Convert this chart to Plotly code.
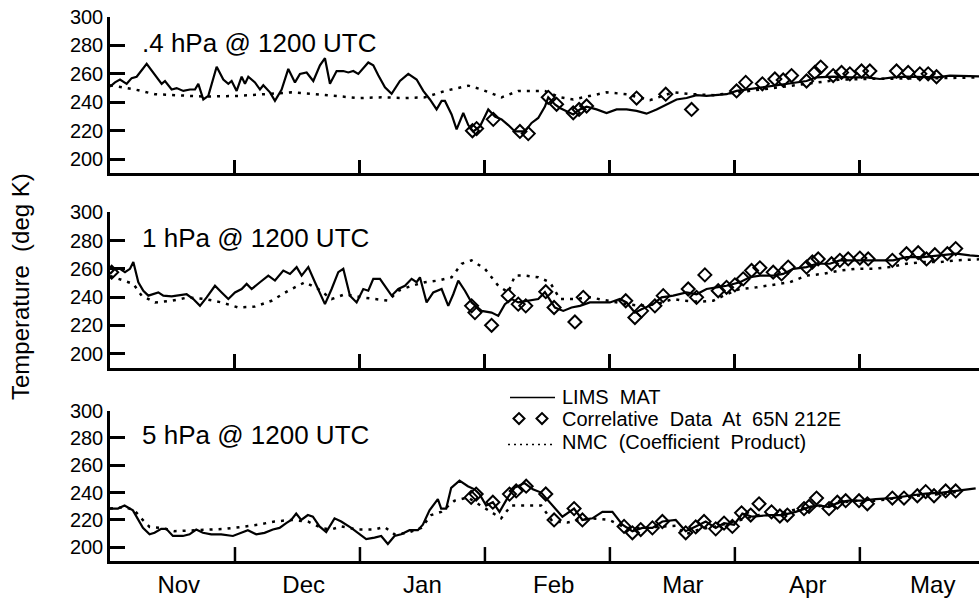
import plotly.graph_objects as go

# ---------------- data (x = days from 1 Nov, y = temperature in K) ----------------
tick_days = [30, 60, 90, 120, 150, 180]
month_labels = ["Nov", "Dec", "Jan", "Feb", "Mar", "Apr", "May"]
month_label_days = [16.5, 46.5, 75.0, 106.5, 137.5, 167.5, 197.5]
y_ticks = [200, 220, 240, 260, 280, 300]

panel_titles = [".4 hPa @ 1200 UTC", "1 hPa @ 1200 UTC", "5 hPa @ 1200 UTC"]

# ---- 0.4 hPa ----
p1_lims_day = [0, 1.2, 2.4, 4.0, 5.2, 6.4, 8.8, 10.8, 12.4, 13.2, 14.8, 16.0, 17.6, 19.2, 20.4, 21.2,
               22.4, 23.6, 25.6, 27.2, 28.4, 29.2, 30.4, 31.6, 32.4, 33.2, 34.8, 36.0, 36.8, 38.4,
               39.6, 41.2, 42.8, 44.4, 45.6, 47.2, 48.8, 50.4, 51.6, 52.8, 54.4, 56.0, 57.2, 58.4,
               59.6, 62.0, 63.2, 64.4, 66.0, 67.6, 69.6, 71.6, 73.6, 75.2, 76.8, 78.4, 79.6, 80.4,
               82.0, 83.2, 84.8, 86.0, 87.2, 88.8, 90.8, 92.4, 94.0, 95.6, 97.2, 99.6, 101.2, 102.8,
               104.4, 105.2, 106.8, 108.0, 111.2, 112.8, 114.4, 116.8, 119.2, 121.6, 124.0, 126.4,
               128.8, 131.2, 133.6, 136.0, 138.4, 140.8, 143.2, 145.6, 148.0, 150.4, 152.8, 156.0,
               159.2, 162.4, 164.8, 167.2, 169.6, 173.6, 177.6, 181.6, 184.8, 188.0, 191.2, 195.2,
               198.4, 201.6, 205.6, 208.6]
p1_lims_temp = [251, 254, 256, 253, 257, 258, 267, 259, 253, 255, 249, 250, 248, 249, 249, 253,
                242, 244.5, 265, 256, 253, 255, 248, 258, 253, 258, 254, 249, 252, 247,
                241, 249, 263.5, 254, 260, 261, 255, 266, 271, 253, 262, 262, 261, 262,
                260, 268, 266, 259, 250.5, 246, 255, 260, 256, 248, 242, 235, 241, 241,
                231.5, 221, 232.5, 224, 219.5, 223, 235, 230, 228, 224, 219.5, 219.5, 225.5, 229,
                237, 243.5, 238.5, 236, 231.5, 235, 237, 235, 232.5, 235, 235, 234,
                232, 235, 238.5, 242, 243, 245, 244.5, 245, 245.7, 248, 249, 250.5,
                251.7, 253, 254, 255, 257.6, 258, 257.6, 257.6, 256.4, 257.6, 258, 258,
                257.6, 258.8, 258.8, 258.3]
p1_nmc_day = [0, 6.0, 10.8, 18.8, 22.8, 30.8, 38.8, 43.6, 48.4, 53.2, 59.6, 65.2, 70.8, 75.6, 80.4,
              86.0, 89.2, 94.0, 98.0, 104.4, 108.0, 111.2, 119.2, 124.0, 129.6, 135.2, 140.0, 144.8,
              151.2, 159.2, 167.2, 175.2, 183.2, 191.2, 199.2, 208.6]
p1_nmc_temp = [252, 249, 245.7, 244.5, 244, 244.5, 246, 247, 246, 244.5, 243, 243.5, 243, 243.5, 248,
               251.7, 249, 243.5, 248, 248, 243.5, 242, 247, 245.7, 241.5, 247, 245.7, 245,
               247, 250, 253, 256, 256.5, 257, 257, 257.5]
p1_obs_day = [87.0, 88.0, 92.0, 98.4, 100.4, 105.2, 107.2, 111.2, 112.6, 114.4, 126.4, 133.4, 139.6,
              150.4, 152.6, 156.6, 159.6, 161.6, 163.6, 167.2, 169.2, 170.6, 173.6, 175.6, 177.6,
              180.4, 182.4, 188.8, 191.6, 194.4, 196.4, 198.4]
p1_obs_temp = [220, 221.5, 228, 219.5, 218, 243.5, 238.6, 232.6, 235, 237.4, 243, 245.7, 235,
               248, 254, 253, 256.4, 255.7, 258.8, 255, 261, 264.8, 258.8, 261, 260,
               262, 262, 262, 261, 260, 260, 258]

# ---- 1 hPa ----
p2_lims_day = [0, 1.2, 2.4, 3.6, 4.8, 5.6, 6.8, 8.0, 9.2, 10.4, 11.6, 12.8, 14.8, 16.0, 17.2, 18.4,
               20.0, 21.6, 23.2, 25.2, 26.8, 28.4, 30.0, 31.6, 32.8, 34.0, 36.0, 38.0, 39.6, 41.6,
               43.2, 44.8, 46.0, 47.6, 49.2, 51.6, 53.2, 54.8, 56.0, 57.6, 59.2, 60.8, 62.0, 63.2,
               64.8, 66.0, 67.6, 69.2, 70.8, 72.4, 73.6, 74.4, 76.0, 77.6, 79.6, 81.2, 82.4, 83.6,
               85.2, 86.8, 89.2, 91.6, 93.2, 94.8, 96.4, 98.0, 100.4, 102.8, 104.4, 106.8, 108.8,
               110.8, 112.8, 115.2, 117.6, 120.0, 122.4, 124.0, 126.0, 127.6, 130.4, 132.4, 135.2,
               138.4, 140.8, 143.2, 145.6, 148.0, 151.2, 153.6, 156.0, 159.2, 161.6, 164.0, 167.2,
               169.6, 172.8, 175.2, 179.2, 183.2, 188.0, 191.2, 195.2, 199.2, 203.2, 206.4, 208.6]
p2_lims_temp = [256.4, 260, 260, 257.6, 260, 264.8, 250.5, 244.5, 241, 242, 243.3, 241, 240.5, 241,
                241.4, 242, 238.6, 233.8, 239.8, 248, 243.3, 238.6, 243.3, 245.7, 249.3, 245.7,
                250.5, 255.2, 251.7, 258.8, 256.4, 261.2, 255.2, 261.2, 250.5, 235, 245.7, 257.6,
                260, 241, 236.2, 245.7, 244.5, 252.9, 252.9, 248, 241, 245.7, 248, 252.9, 250.5,
                254, 236.2, 243.3, 245.7, 233.8, 242, 251.7, 244.5, 236.2, 230.2, 229, 226.7, 235,
                238.6, 236.2, 237.4, 238.6, 243.5, 232.6, 230.2, 232.6, 233.8, 236.2, 236.2, 236.2,
                238.6, 236.2, 229, 231.4, 235, 239.8, 241, 243.3, 242, 245.7, 246.9, 248, 250.5,
                254, 255.2, 255.2, 256.4, 260, 261.2, 263.6, 263.6, 266, 266, 266, 266, 268.3,
                268.3, 269.5, 270.7, 269.5, 269]
p2_nmc_day = [0, 5.6, 7.6, 10.8, 14.8, 18.8, 22.8, 26.8, 30.8, 34.8, 38.8, 42.8, 46.8, 50.0, 53.2,
              56.4, 60.4, 64.4, 66.8, 69.2, 72.4, 75.6, 78.8, 82.0, 84.4, 86.8, 90.0, 93.2, 95.6,
              97.2, 99.6, 102.8, 105.6, 108.0, 111.2, 115.2, 119.2, 124.0, 127.2, 131.2, 135.2,
              137.6, 141.6, 144.8, 148.0, 151.2, 155.2, 159.2, 163.2, 167.2, 171.2, 175.2, 179.2,
              183.2, 187.2, 191.2, 195.2, 199.2, 203.2, 208.6]
p2_nmc_temp = [255, 249.3, 241, 236.2, 237.4, 239.8, 238.6, 236.2, 232.6, 233.3, 237.4, 244.5, 250.5,
               245.7, 238.6, 242, 239.8, 238.6, 237.4, 244.5, 248, 250.5, 251.7, 254, 263.6, 266,
               260, 248, 243.3, 255.2, 255.2, 254, 250.5, 238.6, 238.6, 239.8, 237.4, 235, 233.8,
               235, 238.6, 237.4, 236.7, 237.4, 242, 245.7, 246.9, 248.6, 250.5, 255.2, 256.4,
               258.8, 260, 260, 261.2, 263.6, 264.8, 264.8, 266, 266.7]
p2_obs_day = [0.4, 86.8, 87.6, 91.6, 95.6, 98.0, 99.8, 104.6, 106.6, 111.6, 113.6, 123.8, 126.0,
              127.6, 130.8, 132.8, 138.8, 140.8, 142.8, 146.0, 148.0, 150.0, 152.0, 154.0, 156.0,
              159.2, 161.2, 162.8, 167.2, 168.6, 170.0, 173.2, 175.2, 177.2, 180.0, 182.0, 187.8,
              191.2, 194.0, 196.0, 198.0, 201.0, 203.0]
p2_obs_temp = [257.6, 233.8, 229, 220, 241, 235, 233.8, 243.8, 232.6, 222.4, 239.8, 237.4, 225.5,
               230.2, 233.8, 241, 245.7, 239.8, 255.7, 244.5, 246.9, 248.6, 252.9, 258.8, 260.7,
               257.6, 256.4, 261.2, 261.2, 264.8, 267, 263.6, 266, 267, 267.6, 267, 266,
               270.7, 271.4, 267, 270, 270.7, 274.3]

# ---- 5 hPa ----
p3_lims_day = [0, 1.9, 3.5, 5.5, 7.9, 9.5, 10.7, 12.3, 13.5, 15.1, 17.5, 19.1, 20.7, 22.3, 24.3,
               26.7, 29.5, 31.5, 33.1, 35.1, 37.1, 39.1, 40.7, 42.3, 43.5, 44.7, 45.9, 47.5, 48.7,
               50.3, 51.9, 53.9, 55.5, 57.9, 59.5, 61.5, 63.5, 65.1, 66.7, 68.3, 69.9, 71.9, 73.9,
               75.1, 76.7, 78.7, 79.5, 80.7, 81.9, 83.9, 85.9, 87.5, 88.7, 90.3, 91.9, 93.5, 95.5,
               97.1, 99.5, 101.5, 103.5, 108.6, 111.4, 113.4, 115.8, 118.2, 120.6, 123.0, 125.4,
               127.8, 130.2, 132.6, 135.8, 138.2, 140.6, 143.0, 145.4, 147.4, 149.8, 151.8, 154.2,
               158.2, 161.4, 164.6, 167.8, 170.2, 172.6, 175.0, 177.4, 180.6, 183.8, 187.8, 191.8,
               195.8, 199.8, 203.8, 207.8]
p3_lims_temp = [228.3, 228.3, 230.6, 227, 214.2, 209.5, 210.6, 213.5, 213.5, 208.3, 208.3, 209.5,
                213, 210.6, 209.5, 209.5, 208.3, 210.6, 212.5, 209.5, 210.6, 213, 214.2, 217.7,
                220, 224.7, 220, 223.6, 222.4, 215.3, 211.1, 221.2, 218.9, 214.2, 210.6, 206,
                207.1, 208.3, 202.4, 208.3, 209.5, 212.5, 212.5, 216.5, 227, 235.3, 228.3, 228.3,
                243.5, 248.7, 244.7, 242.4, 238.9, 230.6, 233, 225.9, 236.5, 243.5, 247, 242.4,
                240, 222.4, 228.3, 220, 221.2, 225.9, 225.9, 216.5, 211.8, 214.2, 214.2, 218.9,
                220, 211.8, 215.3, 218.9, 214.2, 217.7, 216.5, 224.7, 222.4, 223.6, 223.6, 225.9,
                229.4, 230.6, 229.4, 233, 234.1, 234.1, 235.3, 236, 237.7, 239.3, 240, 241.7, 243.1]
p3_nmc_day = [0, 3.5, 5.9, 7.5, 9.5, 12.3, 15.5, 19.5, 23.5, 27.5, 31.5, 35.5, 39.5, 43.5, 47.5,
              50.7, 53.1, 55.5, 59.5, 63.5, 65.9, 68.3, 71.5, 74.7, 77.1, 79.5, 82.7, 85.9, 88.3,
              90.7, 93.9, 96.3, 99.5, 103.5, 106.2, 109.8, 112.6, 115.8, 119.8, 123.8, 127.8,
              131.8, 135.8, 138.2, 141.4, 145.4, 148.6, 151.8, 155.8, 159.8, 163.8, 167.8, 171.8,
              175.8, 179.8, 183.8, 187.8, 191.8, 195.8, 199.8, 203.8]
p3_nmc_temp = [228.3, 229.4, 227, 221.2, 214.9, 214.2, 211.8, 212.5, 213, 213.5, 214.9, 216.5,
               218.9, 220, 218.9, 214.2, 213, 215.3, 213, 213, 214.9, 209.5, 210.6, 214.2, 223.6,
               225.9, 234.1, 236.5, 231.8, 227.1, 221.2, 230.6, 230.6, 230.6, 218.9, 218.2, 220,
               221.2, 220, 214.2, 214.2, 214.9, 215.8, 209.5, 213, 215.3, 217.7, 220.5, 223.6,
               223.6, 227.1, 229.4, 230.6, 233, 234.1, 234.1, 235.3, 237, 238.4, 238.9, 240.7]
p3_obs_day = [86.7, 87.9, 91.9, 95.9, 97.5, 99.9, 104.6, 106.6, 111.4, 113.4, 123.4, 125.4, 127.4,
              130.2, 132.6, 138.2, 140.6, 142.6, 145.4, 147.4, 149.4, 151.6, 153.8, 155.8, 158.8,
              160.8, 162.6, 166.6, 167.8, 169.6, 172.6, 174.6, 176.6, 179.8, 181.8, 187.8, 190.6,
              193.8, 195.8, 197.8, 200.6, 203.0]
p3_obs_temp = [236.5, 238.9, 233, 238.9, 241.2, 244.7, 239, 220, 228.3, 220, 215.3, 210.6, 213,
               214.2, 218.9, 210.6, 214.9, 218.9, 213.5, 217.7, 215.3, 225.2, 223.6, 231.8, 225.9,
               222.9, 223.6, 228.3, 229.9, 236, 228.3, 233, 234.1, 234.1, 231.8, 236, 236,
               237.7, 240.7, 237.7, 241.2, 241.2]

legend_labels = ["LIMS  MAT", "Correlative  Data  At  65N 212E", "NMC  (Coefficient  Product)"]

# ---------------- figure ----------------
W, H = 979, 598
ML, MR, MT, MB = 110, 0, 17, 35
FONT = "Liberation Sans, Arial, Helvetica, sans-serif"
X_RANGE = [0, 208.6]
Y_RANGE = [190, 300]

panels = [
    (p1_lims_day, p1_lims_temp, p1_nmc_day, p1_nmc_temp, p1_obs_day, p1_obs_temp),
    (p2_lims_day, p2_lims_temp, p2_nmc_day, p2_nmc_temp, p2_obs_day, p2_obs_temp),
    (p3_lims_day, p3_lims_temp, p3_nmc_day, p3_nmc_temp, p3_obs_day, p3_obs_temp),
]
domains = [[0.7125, 1.0], [0.3553, 0.641], [0.0, 0.2766]]

plot_w = W - ML - MR
plot_h = H - MT - MB


def px_x(px):
    return (px - ML) / plot_w


def px_y(py):
    return (H - MB - py) / plot_h


fig = go.Figure()
for i, (ld, lt, nd, nt, od, ot) in enumerate(panels):
    xa = "x" if i == 0 else f"x{i+1}"
    ya = "y" if i == 0 else f"y{i+1}"
    fig.add_trace(go.Scatter(x=nd, y=nt, mode="lines", xaxis=xa, yaxis=ya,
                             line=dict(color="black", width=2.5, dash="3px,6px"), showlegend=False))
    fig.add_trace(go.Scatter(x=ld, y=lt, mode="lines", xaxis=xa, yaxis=ya,
                             line=dict(color="black", width=2.2), showlegend=False))
    fig.add_trace(go.Scatter(x=od, y=ot, mode="markers", xaxis=xa, yaxis=ya,
                             marker=dict(symbol="diamond-open", size=10, color="black",
                                         line=dict(width=2, color="black")), showlegend=False))

layout = dict(width=W, height=H, margin=dict(l=ML, r=MR, t=MT, b=MB),
              paper_bgcolor="white", plot_bgcolor="white",
              font=dict(family=FONT, color="black"), showlegend=False)
for i in range(3):
    sfx = "" if i == 0 else str(i + 1)
    yax = dict(showline=True, linecolor="black", linewidth=2.5, showgrid=False, zeroline=False,
               domain=domains[i], range=Y_RANGE, tickmode="array", tickvals=y_ticks,
               ticks="inside", ticklen=15, tickwidth=2.5, tickcolor="black",
               anchor="x" + sfx, tickfont=dict(family=FONT, size=20, color="black"))
    xax = dict(showline=True, linecolor="black", linewidth=2.5, showgrid=False, zeroline=False,
               range=X_RANGE, anchor="y" + sfx)
    if i < 2:
        xax.update(tickmode="array", tickvals=tick_days, ticks="inside", ticklen=14,
                   tickwidth=2.5, tickcolor="black", showticklabels=False)
    else:
        xax.update(tickmode="array", tickvals=month_label_days, ticktext=month_labels,
                   ticks="", tickfont=dict(family=FONT, size=24, color="black"))
    layout["xaxis" + sfx] = xax
    layout["yaxis" + sfx] = yax
fig.update_layout(**layout)

# bottom panel: inward month-boundary ticks (labels sit between them)
p3_h = (domains[2][1] - domains[2][0]) * plot_h
for d in tick_days:
    fig.add_shape(type="line", xref="x3", yref="y3 domain", x0=d, x1=d, y0=0, y1=14 / p3_h,
                  line=dict(color="black", width=2.5))

annotations = []
for i, t in enumerate(panel_titles):
    sfx = "" if i == 0 else str(i + 1)
    annotations.append(dict(text=t, xref="paper", x=px_x(140), xanchor="left",
                            yref=f"y{sfx} domain", y=0.835, yanchor="middle",
                            showarrow=False, font=dict(family=FONT, size=26, color="black")))
annotations.append(dict(text="Temperature  (deg K)", xref="paper", x=px_x(20), xanchor="center",
                        yref="paper", y=px_y(288), yanchor="middle", textangle=-90,
                        showarrow=False, font=dict(family=FONT, size=24, color="black")))
leg_y = [398, 420.5, 444]
for lab, yy in zip(legend_labels, leg_y):
    annotations.append(dict(text=lab, xref="paper", x=px_x(560), xanchor="left",
                            yref="paper", y=px_y(yy), yanchor="middle", showarrow=False,
                            font=dict(family=FONT, size=20, color="black")))
fig.update_layout(annotations=annotations)

# legend samples
fig.add_shape(type="line", xref="paper", yref="paper", x0=px_x(510), x1=px_x(555),
              y0=px_y(399), y1=px_y(399), line=dict(color="black", width=1.5))
fig.add_shape(type="line", xref="paper", yref="paper", x0=px_x(508), x1=px_x(555),
              y0=px_y(446), y1=px_y(446), line=dict(color="black", width=1.5, dash="2px,4px"))
for cx in (519, 542):
    cy = 420
    r = 5.5
    path = (f"M {px_x(cx - r)} {px_y(cy)} L {px_x(cx)} {px_y(cy - r)} "
            f"L {px_x(cx + r)} {px_y(cy)} L {px_x(cx)} {px_y(cy + r)} Z")
    fig.add_shape(type="path", xref="paper", yref="paper", path=path,
                  line=dict(color="black", width=2))

fig.write_html("out.html")
